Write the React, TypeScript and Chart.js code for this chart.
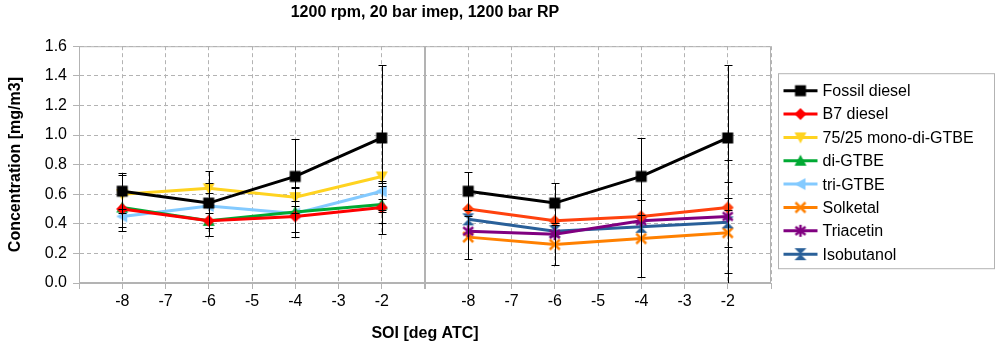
import React, { useEffect, useRef } from 'react';
import { Chart, registerables } from 'chart.js';

Chart.register(...registerables);

// Start of injection, deg ATC
const soi = [-8, -6, -4, -2];
const soiMin = -9;
const soiMax = -1;

// Concentration [mg/m3]
const fossilDiesel = [0.62, 0.54, 0.72, 0.98];
const b7Diesel = [0.50, 0.42, 0.45, 0.51];
const monoDiGtbe = [0.60, 0.64, 0.58, 0.72];
const diGtbe = [0.51, 0.42, 0.48, 0.53];
const triGtbe = [0.45, 0.52, 0.47, 0.62];
const solketal = [0.31, 0.26, 0.30, 0.34];
const triacetin = [0.35, 0.33, 0.42, 0.45];
const isobutanol = [0.43, 0.35, 0.38, 0.41];

// Symmetric uncertainty (±) for each point
const fossilErrLeft = [0.12, 0.22, 0.25, 0.49];
const b7ErrLeft = [0.15, 0.05, 0.105, 0.18];
const monoDiGtbeErr = [0.13, 0.035, 0.06, 0.24];
const diGtbeErr = [0.13, 0.105, 0.17, 0.125];
const triGtbeErr = [0, 0, 0, 0.055];
const fossilErrRight = [0.13, 0.135, 0.26, 0.49];
const b7ErrRight = [0, 0, 0, 0];
const solketalErr = [0.145, 0.135, 0.26, 0.34];
const triacetinErr = [0, 0, 0, 0.38];
const isobutanolErr = [0, 0, 0, 0.165];

// Value axis
const yMin = 0;
const yMax = 1.6;
const yStep = 0.2;

const GRID = '#b3b3b3';
const FONT = '"Liberation Sans", Arial, sans-serif';

type Shape = 'square' | 'diamond' | 'triDown' | 'triUp' | 'triLeft' | 'x' | 'asterisk' | 'hourglass';

function makeMarker(shape: Shape, color: string): HTMLCanvasElement {
  const s = 16;
  const c = document.createElement('canvas');
  c.width = s;
  c.height = s;
  const g = c.getContext('2d')!;
  g.translate(s / 2, s / 2);
  g.fillStyle = color;
  g.strokeStyle = color;
  g.lineWidth = 2.5;
  const poly = (pts: number[][]) => {
    g.beginPath();
    pts.forEach(([x, y], i) => (i ? g.lineTo(x, y) : g.moveTo(x, y)));
    g.closePath();
    g.fill();
  };
  const seg = (x1: number, y1: number, x2: number, y2: number) => {
    g.beginPath();
    g.moveTo(x1, y1);
    g.lineTo(x2, y2);
    g.stroke();
  };
  switch (shape) {
    case 'square':
      g.fillRect(-5.5, -5.5, 11, 11);
      break;
    case 'diamond':
      poly([[0, -6], [6, 0], [0, 6], [-6, 0]]);
      break;
    case 'triDown':
      poly([[-6, -5], [6, -5], [0, 6]]);
      break;
    case 'triUp':
      poly([[-6, 5], [6, 5], [0, -6]]);
      break;
    case 'triLeft':
      poly([[-6, 0], [5, -6], [5, 6]]);
      break;
    case 'x':
      seg(-5, -5, 5, 5);
      seg(5, -5, -5, 5);
      break;
    case 'asterisk':
      seg(0, -6, 0, 6);
      seg(-5, -4, 5, 4);
      seg(5, -4, -5, 4);
      break;
    case 'hourglass':
      poly([[-6, -6], [6, -6], [0, 0]]);
      poly([[-6, 6], [6, 6], [0, 0]]);
      break;
  }
  return c;
}

interface Series {
  label: string;
  panel: number;
  values: number[];
  err: number[];
  color: string;
  shape: Shape;
}

const series: Series[] = [
  { label: 'Fossil diesel', panel: 0, values: fossilDiesel, err: fossilErrLeft, color: '#000000', shape: 'square' },
  { label: 'B7 diesel', panel: 0, values: b7Diesel, err: b7ErrLeft, color: '#ff0000', shape: 'diamond' },
  { label: '75/25 mono-di-GTBE', panel: 0, values: monoDiGtbe, err: monoDiGtbeErr, color: '#ffd320', shape: 'triDown' },
  { label: 'di-GTBE', panel: 0, values: diGtbe, err: diGtbeErr, color: '#00a933', shape: 'triUp' },
  { label: 'tri-GTBE', panel: 0, values: triGtbe, err: triGtbeErr, color: '#83caff', shape: 'triLeft' },
  { label: 'Fossil diesel', panel: 1, values: fossilDiesel, err: fossilErrRight, color: '#000000', shape: 'square' },
  { label: 'B7 diesel', panel: 1, values: b7Diesel, err: b7ErrRight, color: '#ff420e', shape: 'diamond' },
  { label: 'Triacetin', panel: 1, values: triacetin, err: triacetinErr, color: '#800080', shape: 'asterisk' },
  { label: 'Isobutanol', panel: 1, values: isobutanol, err: isobutanolErr, color: '#2a6099', shape: 'hourglass' },
  { label: 'Solketal', panel: 1, values: solketal, err: solketalErr, color: '#ff8000', shape: 'x' },
];

const legendEntries: { label: string; color: string; shape: Shape }[] = [
  { label: 'Fossil diesel', color: '#000000', shape: 'square' },
  { label: 'B7 diesel', color: '#ff0000', shape: 'diamond' },
  { label: '75/25 mono-di-GTBE', color: '#ffd320', shape: 'triDown' },
  { label: 'di-GTBE', color: '#00a933', shape: 'triUp' },
  { label: 'tri-GTBE', color: '#83caff', shape: 'triLeft' },
  { label: 'Solketal', color: '#ff8000', shape: 'x' },
  { label: 'Triacetin', color: '#800080', shape: 'asterisk' },
  { label: 'Isobutanol', color: '#2a6099', shape: 'hourglass' },
];

const panelWidth = soiMax - soiMin;
const toAxis = (x: number, panel: number) => x - soiMin + panel * panelWidth;

// Panel frame and the divider between the two panels
const framePlugin = {
  id: 'panelFrame',
  beforeDatasetsDraw(chart: any) {
    const { ctx, chartArea: a, scales } = chart;
    ctx.save();
    ctx.strokeStyle = GRID;
    ctx.lineWidth = 1;
    ctx.setLineDash([]);
    ctx.strokeRect(a.left + 0.5, a.top + 0.5, a.right - a.left - 1, a.bottom - a.top - 1);
    const xd = scales.x.getPixelForValue(panelWidth);
    ctx.lineWidth = 2;
    ctx.beginPath();
    ctx.moveTo(xd, a.top);
    ctx.lineTo(xd, a.bottom + 6);
    ctx.stroke();
    ctx.restore();
  },
};

// Vertical error bars with caps
const errorBarPlugin = {
  id: 'errorBars',
  afterDatasetsDraw(chart: any) {
    const { ctx, chartArea: a, scales } = chart;
    ctx.save();
    ctx.beginPath();
    ctx.rect(a.left, a.top, a.right - a.left, a.bottom - a.top);
    ctx.clip();
    ctx.strokeStyle = '#000';
    ctx.lineWidth = 1;
    series.forEach((s) => {
      s.values.forEach((v, j) => {
        const e = s.err[j];
        if (!e) return;
        const x = Math.round(scales.x.getPixelForValue(toAxis(soi[j], s.panel))) + 0.5;
        const yt = Math.round(scales.y.getPixelForValue(Math.min(yMax, v + e))) + 0.5;
        const yb = Math.round(scales.y.getPixelForValue(Math.max(yMin, v - e))) + 0.5;
        ctx.beginPath();
        ctx.moveTo(x, yt);
        ctx.lineTo(x, yb);
        ctx.moveTo(x - 4, yt);
        ctx.lineTo(x + 4, yt);
        if (v - e > yMin) {
          ctx.moveTo(x - 4, yb);
          ctx.lineTo(x + 4, yb);
        }
        ctx.stroke();
      });
    });
    ctx.restore();
  },
};

// Boxed legend to the right of the plot
const legendPlugin = {
  id: 'boxLegend',
  afterDraw(chart: any) {
    const { ctx, chartArea: a } = chart;
    const left = a.right + 7.5;
    const top = a.top + 27.5;
    const w = 216;
    const rowH = 23.35;
    const h = 195;
    ctx.save();
    ctx.strokeStyle = GRID;
    ctx.lineWidth = 1;
    ctx.strokeRect(left, top, w, h);
    ctx.font = `16px ${FONT}`;
    ctx.textBaseline = 'middle';
    ctx.textAlign = 'left';
    legendEntries.forEach((e, i) => {
      const y = top + 17 + i * rowH;
      ctx.strokeStyle = e.color;
      ctx.lineWidth = 3;
      ctx.beginPath();
      ctx.moveTo(left + 5, y);
      ctx.lineTo(left + 39, y);
      ctx.stroke();
      const m = makeMarker(e.shape, e.color);
      ctx.drawImage(m, left + 22 - m.width / 2, y - m.height / 2);
      ctx.fillStyle = '#000';
      ctx.fillText(e.label, left + 44, y + 1);
    });
    ctx.restore();
  },
};

export default function App() {
  const ref = useRef<HTMLCanvasElement>(null);

  useEffect(() => {
    if (!ref.current) return;
    Chart.defaults.font.family = FONT;
    const datasets = series.map((s) => ({
      label: s.label,
      data: s.values.map((v, j) => ({ x: toAxis(soi[j], s.panel), y: v })),
      borderColor: s.color,
      backgroundColor: s.color,
      borderWidth: 3,
      showLine: true,
      tension: 0,
      pointStyle: makeMarker(s.shape, s.color),
      pointRadius: 6,
    }));

    const chart = new Chart(ref.current, {
      type: 'scatter',
      data: { datasets },
      options: {
        animation: false,
        responsive: false,
        events: [],
        layout: { padding: { left: 0, right: 226, top: 0, bottom: 0 } },
        plugins: {
          legend: { display: false },
          tooltip: { enabled: false },
          title: {
            display: true,
            text: '1200 rpm, 20 bar imep, 1200 bar RP',
            fullSize: false,
            color: '#000',
            font: { size: 16, weight: 'bold', family: FONT },
            padding: { top: 3, bottom: 24 },
          },
        },
        scales: {
          x: {
            type: 'linear',
            min: 0,
            max: 2 * panelWidth,
            afterFit: (s: any) => {
              s.height = 66;
            },
            ticks: {
              stepSize: 1,
              autoSkip: false,
              maxRotation: 0,
              padding: 3,
              color: '#000',
              font: { size: 16, family: FONT },
              callback: (v: any) => {
                const n = Number(v);
                if (n % panelWidth === 0) return '';
                return String((n % panelWidth) + soiMin);
              },
            },
            grid: {
              color: GRID,
              lineWidth: 1,
              tickLength: 6,
              tickColor: GRID,
              tickBorderDash: [],
            },
            border: { display: true, color: GRID, width: 1, dash: [4, 3] },
            title: {
              display: true,
              text: 'SOI [deg ATC]',
              color: '#000',
              font: { size: 16, weight: 'bold', family: FONT },
              padding: { top: 6, bottom: 6 },
            },
          },
          y: {
            type: 'linear',
            min: yMin,
            max: yMax,
            afterFit: (s: any) => {
              s.width = 79;
            },
            ticks: {
              stepSize: yStep,
              padding: 6,
              color: '#000',
              font: { size: 16, family: FONT },
              callback: (v: any) => Number(v).toFixed(1),
            },
            grid: {
              color: GRID,
              lineWidth: 1,
              tickLength: 6,
              tickColor: GRID,
              tickBorderDash: [],
            },
            border: { display: true, color: GRID, width: 1, dash: [4, 3] },
            title: {
              display: true,
              text: 'Concentration [mg/m3]',
              color: '#000',
              font: { size: 16, weight: 'bold', family: FONT },
              padding: { top: 6, bottom: 0 },
            },
          },
        },
      },
      plugins: [framePlugin, errorBarPlugin, legendPlugin],
    } as any);

    return () => chart.destroy();
  }, []);

  return (
    <div style={{ position: 'fixed', left: 0, top: 0, width: 997, height: 349, background: '#fff' }}>
      <canvas ref={ref} width={997} height={349} style={{ display: 'block' }} />
    </div>
  );
}
